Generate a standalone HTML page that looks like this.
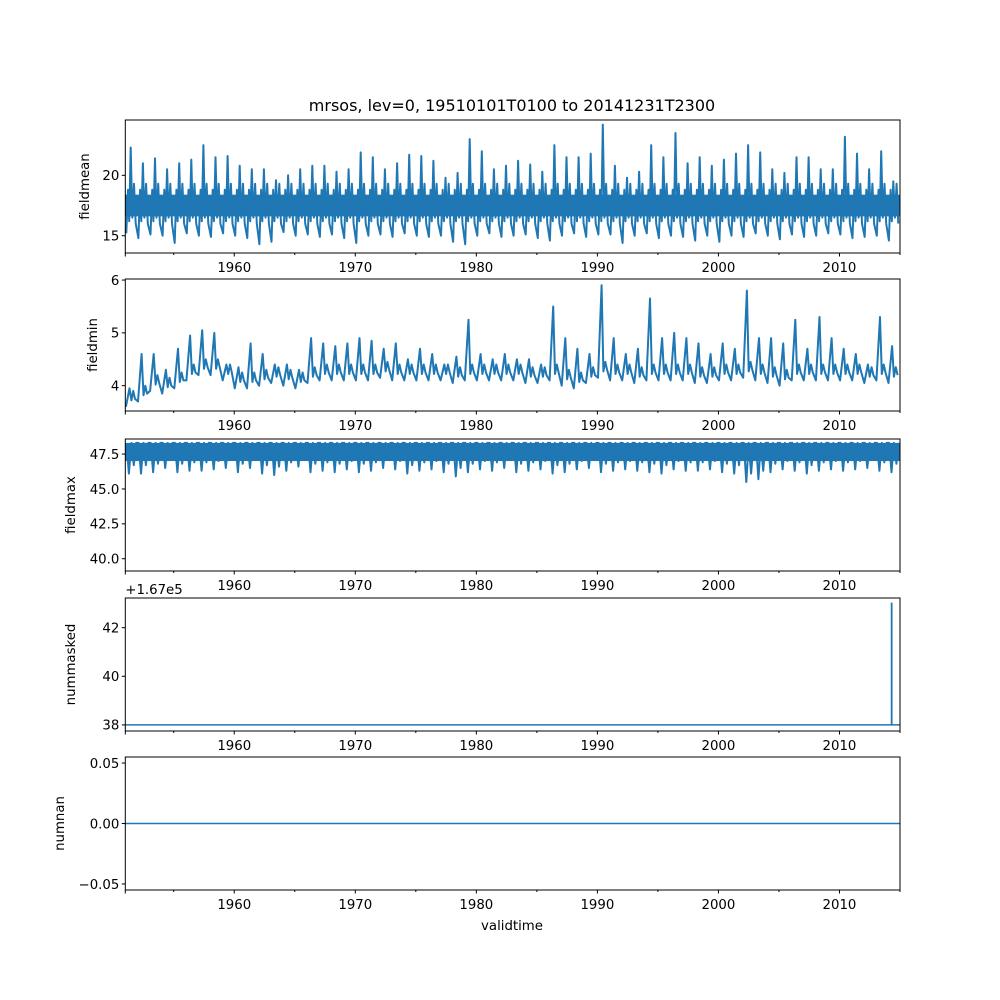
<!DOCTYPE html>
<html><head><meta charset="utf-8"><style>
body{margin:0;background:#fff}
svg{display:block}
text{font-family:"DejaVu Sans","Liberation Sans",sans-serif;font-size:13.3px;fill:#000}
</style></head><body>
<svg id="fig" width="1000" height="1000" xmlns="http://www.w3.org/2000/svg">
<rect width="1000" height="1000" fill="#fff"/>
<text x="512" y="111" text-anchor="middle" style="font-size:16px">mrsos, lev=0, 19510101T0100 to 20141231T2300</text>
<text x="512" y="930" text-anchor="middle">validtime</text>
</svg>
<script>
const years = [];
for (let y = 1951; y <= 2014; y++) years.push(y);
const xTicks = [1960, 1970, 1980, 1990, 2000, 2010];
const meanPeak = [22.3,21,21.4,20.5,21,21.3,22.5,21.5,21.6,20.8,20.5,20.5,19.6,20,20.5,20.8,20.8,20.3,20.5,21.9,21.5,20.5,21,21.7,21.6,21.2,19.8,20.2,23,22,20.5,20.8,21.2,20.9,20.3,22.5,21.5,21.5,21.8,24.2,20.8,19.8,20.3,22.5,21.5,23.5,21,21.5,20.8,21.3,21.8,22.5,21.9,20.5,20.2,21.5,21.5,20.5,20.5,23.2,21.8,20.5,22,19.5];
const meanTrough = [15.2,14.8,15.1,15.0,14.4,15.2,15.0,14.9,15.2,15.0,14.8,14.3,14.5,15.3,15.0,15.1,14.9,15.1,14.8,14.4,15.0,15.1,14.9,15.2,15.0,14.9,15.0,14.5,14.3,15.0,15.2,14.9,15.0,15.1,14.8,14.6,15.0,15.2,14.9,15.1,15.1,14.4,15.0,15.2,14.8,15.0,14.9,14.6,15.0,14.5,15.0,14.9,15.2,15.0,14.7,15.1,14.9,15.0,15.2,15.1,14.8,14.9,15.0,14.6];
const minPeak = [3.95,4.6,4.6,4.3,4.7,4.95,5.05,5.0,4.4,4.35,4.8,4.6,4.4,4.4,4.3,4.9,4.8,4.75,4.8,4.9,4.85,4.7,4.8,4.5,4.7,4.6,4.4,4.55,5.25,4.6,4.5,4.6,4.5,4.5,4.4,5.5,4.9,4.7,4.6,5.9,4.9,4.6,4.7,5.65,4.9,5.0,4.9,4.8,4.6,4.8,4.7,5.8,4.9,4.9,4.8,5.25,4.7,5.3,4.9,4.7,4.6,4.4,5.3,4.75];
const minBase = [3.6,3.7,3.9,3.85,3.95,4.1,4.2,4.2,4.1,3.95,3.95,4.0,4.05,4.0,3.95,4.05,4.1,4.1,4.1,4.1,4.1,4.15,4.1,4.1,4.1,4.1,4.1,4.05,4.1,4.1,4.1,4.1,4.1,4.05,4.05,4.1,4.0,3.95,4.05,4.15,4.1,4.1,4.05,4.1,4.1,4.1,4.1,4.05,4.05,4.1,4.1,4.15,4.1,4.05,4.0,4.1,4.1,4.1,4.1,4.1,4.1,4.05,4.1,4.05];
const maxTop = 48.3;
const maxLow = [46.1,46.1,46.2,46.5,46.2,46.3,46.3,46.4,46.5,46.2,46.5,46.1,46.0,46.3,46.6,46.2,46.3,46.2,46.4,46.2,46.3,46.5,46.4,46.1,46.3,46.4,46.2,45.9,46.2,46.4,46.3,46.5,46.2,46.3,46.4,46.1,46.2,46.4,46.5,46.2,46.3,46.4,46.3,46.2,46.1,46.4,46.3,46.3,46.4,46.2,46.1,45.5,45.7,46.2,46.4,46.3,46.1,46.3,46.4,46.3,46.4,46.5,46.3,46.2];
const maskedBase = 38, maskedSpike = 43, maskedSpikeYear = 2014.3;
const nanValue = 0;

const NS = 'http://www.w3.org/2000/svg';
const svg = document.getElementById('fig');
const X0 = 125.3, X1 = 900, D0 = 1951.0, D1 = 2015.0;
const xs = t => X0 + (t - D0) / (D1 - D0) * (X1 - X0);
const C = '#1f77b4';
function mk(tag, attrs, parent) { const e = document.createElementNS(NS, tag); for (const k in attrs) e.setAttribute(k, attrs[k]); (parent || svg).appendChild(e); return e; }

const panels = [
  {name:'fieldmean', top:120, bot:253, d0:13.57, d1:24.58, ticks:[15,20], fmt:v=>String(v)},
  {name:'fieldmin', top:279, bot:411, d0:3.52, d1:6.02, ticks:[4,5,6], fmt:v=>String(v)},
  {name:'fieldmax', top:439, bot:571, d0:39.12, d1:48.58, ticks:[40,42.5,45,47.5], fmt:v=>v.toFixed(1)},
  {name:'nummasked', top:598, bot:731, d0:37.75, d1:43.22, ticks:[38,40,42], fmt:v=>String(v)},
  {name:'numnan', top:757, bot:890, d0:-0.055, d1:0.055, ticks:[-0.05,0,0.05], fmt:v=>(v<0?'\u2212':'')+Math.abs(v).toFixed(2)}
];
panels.forEach((p, pi) => {
  const g = mk('g', {});
  
  
  const ys = v => p.bot - (v - p.d0) / (p.d1 - p.d0) * (p.bot - p.top);
  const clipId = 'c' + pi;
  const cp = mk('clipPath', {id: clipId}, g);
  mk('rect', {x: X0, y: p.top, width: X1 - X0, height: p.bot - p.top}, cp);
  const dg = mk('g', {'clip-path': 'url(#' + clipId + ')'}, g);
  
  
  let pts = [];
  if (pi === 0) {
    years.forEach((y, i) => { pts.push([y + 0.08, meanTrough[i]], [y + 0.22, 18.8], [y + 0.32, 16.2], [y + 0.45, meanPeak[i]], [y + 0.58, 16.5], [y + 0.72, 19.3], [y + 0.86, 16.0]); });
    const band = mk('rect', {x: X0, y: ys(18.4), width: X1 - X0, height: ys(16.6) - ys(18.4), fill: C}, dg);
    
    
  } else if (pi === 1) {
    years.forEach((y, i) => { pts.push([y + 0.05, minBase[i]], [y + 0.35, minPeak[i]], [y + 0.5, (minBase[i] + 0.12)], [y + 0.65, minBase[i] + 0.3], [y + 0.8, minBase[i] + 0.15]); });
  } else if (pi === 2) {
    years.forEach((y, i) => { pts.push([y + 0.1, maxTop], [y + 0.3, maxLow[i]], [y + 0.5, maxTop], [y + 0.7, (maxLow[i] + 0.6)], [y + 0.9, maxTop]); });
    const band = mk('rect', {x: X0, y: ys(maxTop), width: X1 - X0, height: ys(47.0) - ys(maxTop), fill: C}, dg);
    
    
  } else if (pi === 3) {
    pts = [[D0, maskedBase], [maskedSpikeYear, maskedBase], [maskedSpikeYear, maskedSpike], [maskedSpikeYear + 0.02, maskedSpike], [maskedSpikeYear + 0.02, maskedBase], [D1, maskedBase]];
  } else {
    pts = [[D0, nanValue], [D1, nanValue]];
  }
  const line = mk('polyline', {points: pts.map(q => xs(q[0]).toFixed(1) + ',' + ys(q[1]).toFixed(1)).join(' '), fill: 'none', stroke: C, 'stroke-width': pi < 3 ? 2 : 1.5, 'stroke-linejoin': 'round'}, dg);
  
  
  const frame = mk('rect', {x: X0, y: p.top, width: X1 - X0, height: p.bot - p.top, fill: 'none', stroke: '#000', 'stroke-width': 1}, g);
  
  
  p.ticks.forEach(v => {
    const y = ys(v);
    mk('line', {x1: X0 - 3.5, x2: X0, y1: y, y2: y, stroke: '#000'}, g);
    const t = mk('text', {x: X0 - 6, y: y + 4.8, 'text-anchor': 'end'}, g);
    t.textContent = p.fmt(v);
    
    
  });
  for (let yr = 1955; yr <= 2015; yr += 5) {
    const x = xs(yr);
    const major = yr % 10 === 0;
    mk('line', {x1: x, x2: x, y1: p.bot, y2: p.bot + (major ? 3.5 : 2), stroke: '#000'}, g);
  }
  mk('line', {x1: X0, x2: X0, y1: p.bot, y2: p.bot + 3.5, stroke: '#000'}, g);
  xTicks.forEach(yr => {
    const t = mk('text', {x: xs(yr), y: p.bot + 19, 'text-anchor': 'middle'}, g);
    t.textContent = String(yr);
    
    
  });
  const lab = mk('text', {x: 0, y: 0, 'text-anchor': 'middle', transform: 'translate(' + (pi === 4 ? 64 : pi === 1 ? 97 : pi === 0 ? 89 : 75) + ',' + ((p.top + p.bot) / 2) + ') rotate(-90)'}, g);
  lab.textContent = p.name;
  
  
  if (pi === 3) {
    const off = mk('text', {x: X0, y: p.top - 4}, g);
    off.textContent = '+1.67e5';
    
    
  }
});
</script>
</body></html>
